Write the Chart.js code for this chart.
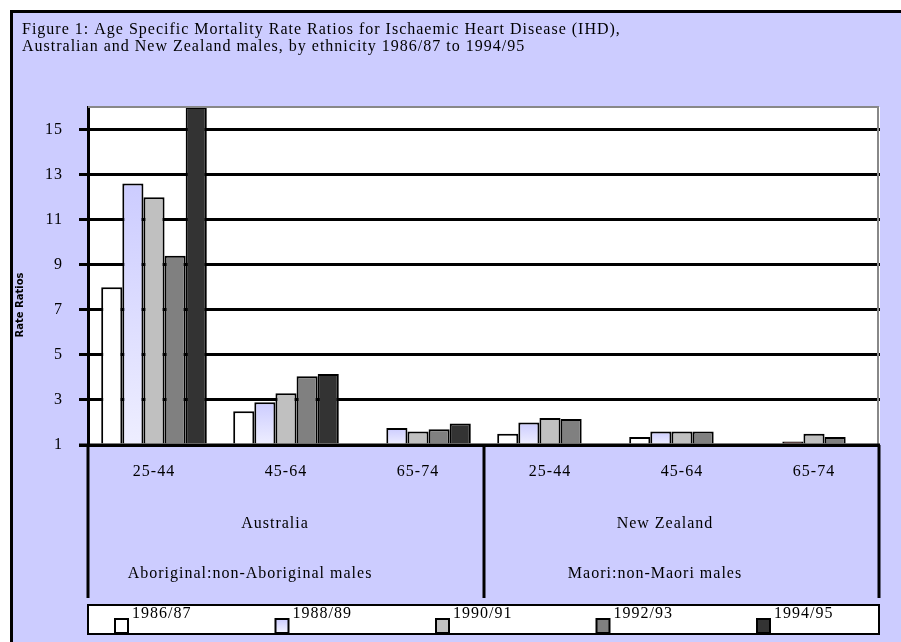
<!DOCTYPE html>
<html>
<head>
<meta charset="utf-8">
<script src="https://cdn.jsdelivr.net/npm/chart.js@4.4.0/dist/chart.umd.min.js"></script>
<style>
  html, body { margin: 0; padding: 0; background: #fff; }
  #wrap { width: 901px; height: 642px; }
</style>
</head>
<body>
<div id="wrap"><canvas id="ihdChart" width="901" height="642"></canvas></div>
<script>
// categories
const ageGroups = ['25-44', '45-64', '65-74', '25-44', '45-64', '65-74'];
const countries = ['Australia', 'New Zealand'];
const comparisons = ['Aboriginal:non-Aboriginal males', 'Maori:non-Maori males'];
const periods = ['1986/87', '1988/89', '1990/91', '1992/93', '1994/95'];
const yTicks = [1, 3, 5, 7, 9, 11, 13, 15];

// rate ratios, one array per period (null = no bar shown)
const r1986 = [8.0, 2.5, null, 1.5, 1.35, null];
const r1988 = [12.6, 2.9, 1.75, 2.0, 1.6, 1.15];
const r1990 = [12.0, 3.3, 1.6, 2.2, 1.6, 1.5];
const r1992 = [9.4, 4.05, 1.7, 2.15, 1.6, 1.35];
const r1994 = [16, 4.15, 1.95, null, null, null];

const seriesValues = [r1986, r1988, r1990, r1992, r1994];
const fills = ['#FFFFFF', '#D8D8FC', '#C0C0C0', '#808080', '#333333'];
const serif = 'Liberation Serif, Times New Roman, serif';

// 1988/89 bars fade from lavender at the top to near white
function lavender(context) {
    const chart = context.chart;
    const v = context.raw;
    if (!chart.chartArea || v == null) return fills[1];
    if (context.dataIndex === 5) return '#330000';
    const top = chart.scales.y.getPixelForValue(v);
    const bottom = chart.scales.y.getPixelForValue(1);
    const g = chart.ctx.createLinearGradient(0, top, 0, bottom);
    g.addColorStop(0, '#CCCCFF');
    g.addColorStop(1, '#EEEEFF');
    return g;
}

const frame = {
    id: 'frame',
    beforeDraw(chart) {
        const c = chart.ctx;
        const a = chart.chartArea;
        c.save();
        c.fillStyle = '#FFFFFF';
        c.fillRect(0, 0, chart.width, chart.height);
        c.fillStyle = '#CCCCFF';
        c.fillRect(11, 11, chart.width - 11, chart.height - 11);
        c.strokeStyle = '#000';
        c.lineWidth = 3;
        c.beginPath();
        c.moveTo(11.5, chart.height);
        c.lineTo(11.5, 11.5);
        c.lineTo(chart.width, 11.5);
        c.stroke();
        // white plot area
        c.fillStyle = '#FFFFFF';
        c.fillRect(a.left, a.top, a.right - a.left, a.bottom - a.top);
        c.restore();
        // the original type is loosely spaced
        c.letterSpacing = '1px';
        c.save();
        c.fillStyle = '#000';
        c.font = '16px ' + serif;
        c.textBaseline = 'alphabetic';
        c.fillText('Figure 1: Age Specific Mortality Rate Ratios for Ischaemic Heart Disease (IHD),', 22, 34);
        c.fillText('Australian and New Zealand males, by ethnicity 1986/87 to 1994/95', 22, 51);
        c.restore();
    },
    afterDatasetsDraw(chart) {
        const c = chart.ctx;
        const a = chart.chartArea;
        const x = chart.scales.x;
        c.save();
        // grey plot frame top / right
        c.strokeStyle = '#888';
        c.lineWidth = 2;
        c.beginPath();
        c.moveTo(a.left, a.top);
        c.lineTo(a.right - 2, a.top);
        c.lineTo(a.right - 2, a.bottom);
        c.stroke();
        // baseline
        c.strokeStyle = '#000';
        c.lineWidth = 3;
        c.beginPath();
        c.moveTo(a.left - 9, a.bottom);
        c.lineTo(a.right, a.bottom);
        c.stroke();
        // group dividers below axis
        const mid = (x.getPixelForValue(2) + x.getPixelForValue(3)) / 2;
        [a.left, mid, a.right - 1].forEach(px => {
            c.beginPath();
            c.moveTo(px, a.bottom);
            c.lineTo(px, 598);
            c.stroke();
        });
        // group labels
        c.fillStyle = '#000';
        c.font = '16px ' + serif;
        c.textAlign = 'center';
        c.textBaseline = 'middle';
        const centres = [(a.left + mid) / 2, (mid + a.right) / 2];
        const nameShift = [-11, -17];
        const subShift = [-36, -27];
        countries.forEach((t, i) => c.fillText(t, centres[i] + nameShift[i], 524));
        comparisons.forEach((t, i) => c.fillText(t, centres[i] + subShift[i], 574));
        // legend
        c.fillStyle = '#FFFFFF';
        c.fillRect(88, 605, a.right - 89, 29);
        c.lineWidth = 2;
        c.strokeRect(88, 605, a.right - 89, 29);
        c.textAlign = 'left';
        c.textBaseline = 'top';
        chart.data.datasets.forEach((ds, i) => {
            const bx = 115 + i * 160.5;
            if (i === 1) {
                const g = c.createLinearGradient(0, 619, 0, 633);
                g.addColorStop(0, '#CCCCFF');
                g.addColorStop(1, '#F4F4FF');
                c.fillStyle = g;
            } else {
                c.fillStyle = fills[i];
            }
            c.fillRect(bx, 619, 13, 14);
            c.strokeStyle = '#000';
            c.strokeRect(bx, 619, 13, 14);
            c.fillStyle = '#000';
            c.fillText(ds.label, bx + 17, 606);
        });
        // y axis title
        c.letterSpacing = '0px';
        c.translate(20, 305);
        c.rotate(-Math.PI / 2);
        c.textAlign = 'center';
        c.textBaseline = 'middle';
        c.font = 'bold 10px DejaVu Sans, sans-serif';
        c.fillText('Rate Ratios', 0, 0);
        c.restore();
    }
};

const ctx = document.getElementById('ihdChart').getContext('2d');
new Chart(ctx, {
    type: 'bar',
    data: {
        labels: ageGroups,
        datasets: periods.map((p, i) => ({
            label: p,
            data: seriesValues[i],
            backgroundColor: i === 1 ? lavender : fills[i],
            borderColor: '#000',
            borderWidth: 2,
            base: 1,
            categoryPercentage: 0.8,
            barPercentage: 1.0
        }))
    },
    options: {
        responsive: false,
        animation: false,
        layout: { padding: { top: 107, right: 21, left: 0, bottom: 0 } },
        plugins: {
            legend: { display: false },
            title: { display: false },
            tooltip: { enabled: false }
        },
        scales: {
            x: {
                grid: { display: false, drawTicks: false },
                border: { display: false },
                ticks: {
                    color: '#000',
                    font: { family: serif, size: 16 },
                    padding: 17,
                    autoSkip: false,
                    maxRotation: 0
                },
                afterFit: s => { s.height = 642 - 445; }
            },
            y: {
                min: 1,
                max: 16,
                afterBuildTicks: s => { s.ticks = yTicks.map(v => ({ value: v })); },
                grid: { color: '#000', lineWidth: 3, tickLength: 9 },
                border: { color: '#000', width: 3 },
                ticks: {
                    color: '#000',
                    font: { family: serif, size: 16 },
                    padding: 16
                },
                afterFit: s => { s.width = 88; }
            }
        }
    },
    plugins: [frame]
});
</script>
</body>
</html>
